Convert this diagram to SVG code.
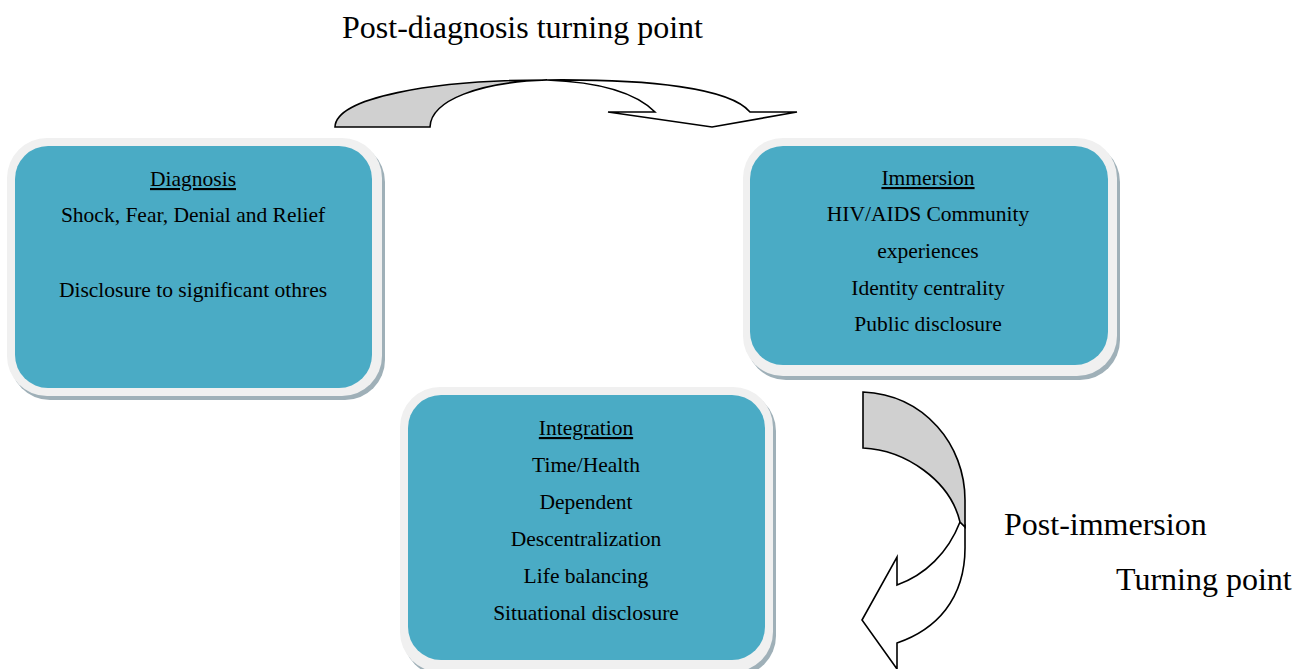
<svg xmlns="http://www.w3.org/2000/svg" width="1306" height="669" viewBox="0 0 1306 669">
<style>
.shadow{fill:#9fb0b8}
.frame{fill:#f0f0f0}
.box{fill:#4aabc5}
.t{font-family:"Liberation Serif","Times New Roman",serif;font-size:21.5px;fill:#000;text-anchor:middle}
.h{text-decoration:underline}
.big{font-family:"Liberation Serif","Times New Roman",serif;font-size:32px;fill:#000}
.arrow{stroke:#000;stroke-width:1.6;stroke-linejoin:miter}
.g{fill:#d0d0d0}
.w{fill:#fff}
</style>
<rect width="1306" height="669" fill="#fff"/>
<g id="connectors">
  <g id="post-diagnosis-arrow" class="arrow">
    <path class="w" d="M547,80 C650,79 730,88 750,112 L797,112 L712,127 L608,112 L655,112 C635,92 600,82 547,80 Z"/>
    <path class="g" d="M335,127 C336,98 430,80 547,80 C480,82 431,100 430,127 Z"/>
  </g>
  <g id="post-immersion-arrow" class="arrow">
    <path class="w" d="M960,522 C948,553 925,575 897,585 L897,557 L862,620 L897,669 L897,643 C935,630 966,600 965,545 L965,525 Z"/>
    <path class="g" d="M863,392 C925,395 965,445 965,500 L965,527 L960,522 C950,480 905,450 863,448 Z"/>
  </g>
</g>
<text class="big" x="342" y="38">Post-diagnosis turning point</text>
<text class="big" x="1004" y="535">Post-immersion</text>
<text class="big" x="1116" y="590">Turning point</text>
<g id="diagnosis">
  <rect class="shadow" x="10" y="142" width="375" height="258" rx="40"/>
  <rect class="frame" x="7" y="138" width="375" height="258" rx="40"/>
  <rect class="box" x="15" y="146" width="357" height="242" rx="33"/>
  <text class="t h" x="193" y="186">Diagnosis</text>
  <text class="t" x="193" y="222">Shock, Fear, Denial and Relief</text>
  <text class="t" x="193" y="297">Disclosure to significant othres</text>
</g>
<g id="immersion">
  <rect class="shadow" x="746" y="142" width="374" height="238" rx="40"/>
  <rect class="frame" x="743" y="138" width="374" height="238" rx="40"/>
  <rect class="box" x="750" y="146" width="358" height="219" rx="33"/>
  <text class="t h" x="928" y="185">Immersion</text>
  <text class="t" x="928" y="221">HIV/AIDS Community</text>
  <text class="t" x="928" y="258">experiences</text>
  <text class="t" x="928" y="295">Identity centrality</text>
  <text class="t" x="928" y="331">Public disclosure</text>
</g>
<g id="integration">
  <rect class="shadow" x="403" y="391" width="373" height="285" rx="40"/>
  <rect class="frame" x="400" y="387" width="373" height="285" rx="40"/>
  <rect class="box" x="408" y="395" width="357" height="265" rx="33"/>
  <text class="t h" x="586" y="435">Integration</text>
  <text class="t" x="586" y="472">Time/Health</text>
  <text class="t" x="586" y="509">Dependent</text>
  <text class="t" x="586" y="546">Descentralization</text>
  <text class="t" x="586" y="583">Life balancing</text>
  <text class="t" x="586" y="620">Situational disclosure</text>
</g>
</svg>
